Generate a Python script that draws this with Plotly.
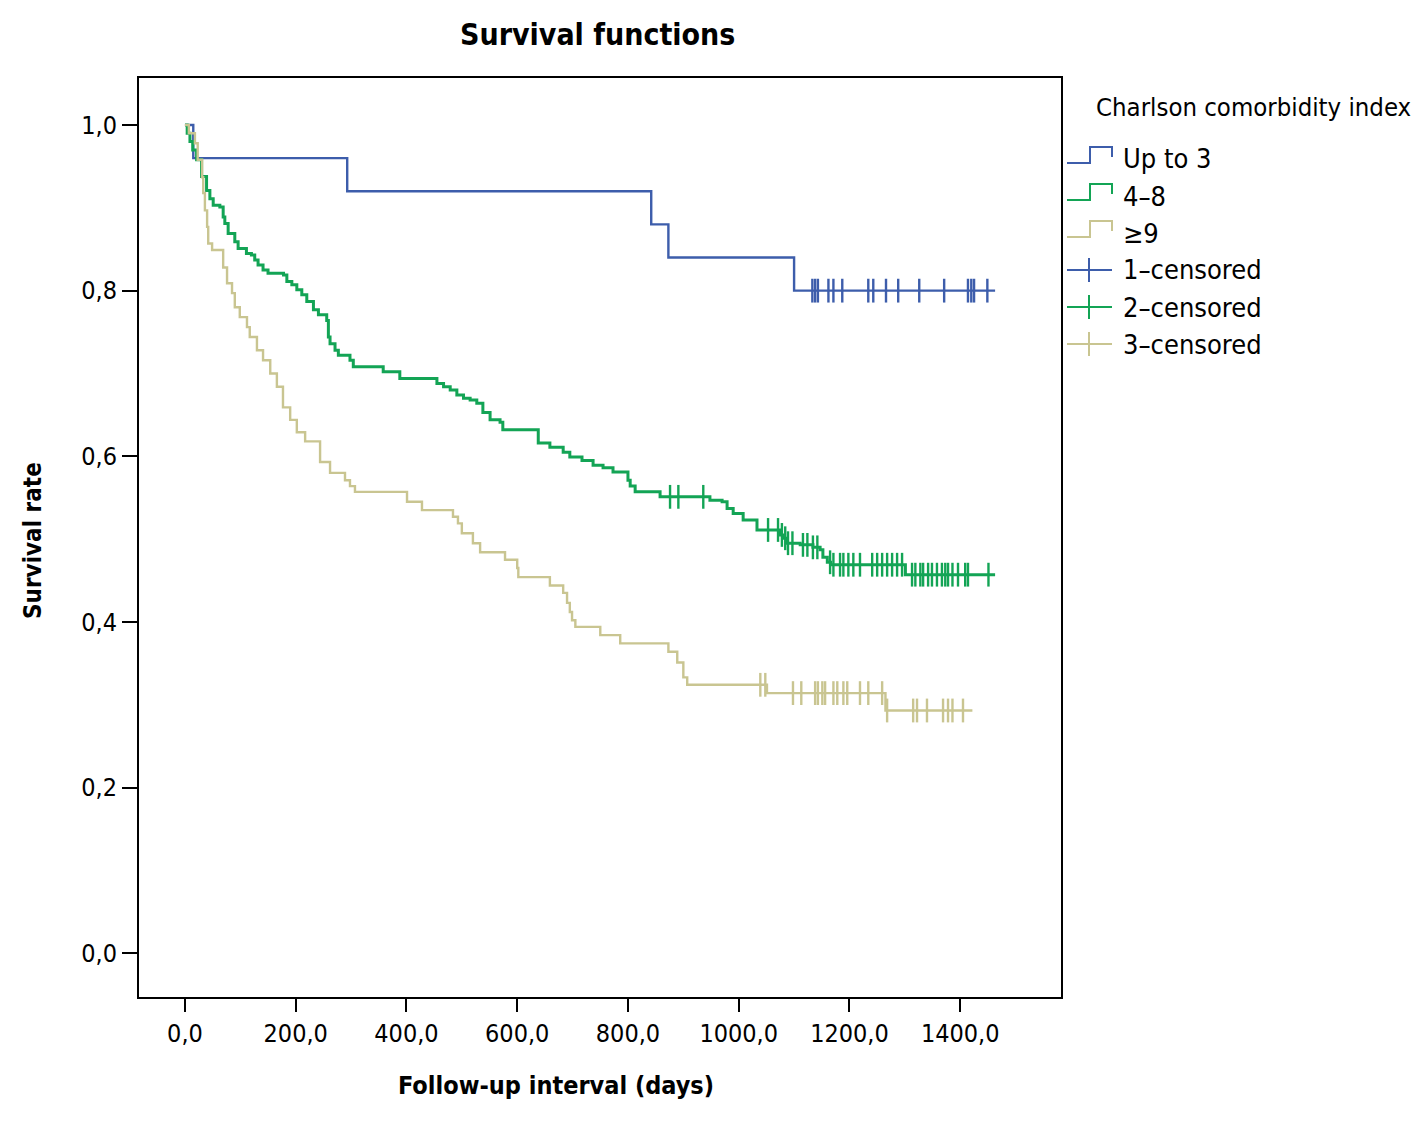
import plotly.graph_objects as go

# ---------------- DATA ----------------
# Kaplan-Meier step points: time of drop (days) and survival after drop
up3_times = [15, 293, 842, 873, 1100]
up3_surv = [0.96, 0.92, 0.88, 0.84, 0.80]
up3_end = 1463
up3_censor = [1133, 1138, 1143, 1162, 1171, 1187, 1234, 1243, 1266, 1288,
              1326, 1371, 1414, 1420, 1425, 1449]

mid_times = [4, 9, 14, 21, 30, 39, 45, 51, 63, 69, 72, 78, 90, 96, 111, 120,
             126, 132, 141, 150, 178, 184, 193, 202, 211, 220, 232, 241, 256,
             259, 262, 271, 277, 298, 304, 358, 388, 455, 467, 479, 491, 503,
             515, 527, 538, 551, 569, 574, 638, 659, 683, 695, 717, 737, 755,
             773, 800, 804, 813, 858, 948, 970, 979, 990, 1008, 1033, 1075,
             1080, 1087, 1111, 1134, 1147, 1152, 1160, 1166, 1301]
mid_surv = [0.99, 0.98, 0.97, 0.958, 0.938, 0.921, 0.911, 0.903, 0.901, 0.889,
            0.881, 0.869, 0.859, 0.851, 0.845, 0.843, 0.837, 0.831, 0.825,
            0.821, 0.819, 0.811, 0.807, 0.801, 0.795, 0.787, 0.777, 0.771,
            0.764, 0.744, 0.736, 0.728, 0.722, 0.716, 0.708, 0.702, 0.694,
            0.688, 0.684, 0.680, 0.674, 0.670, 0.668, 0.664, 0.653, 0.644,
            0.641, 0.632, 0.616, 0.611, 0.605, 0.599, 0.595, 0.589, 0.586,
            0.581, 0.571, 0.564, 0.557, 0.551, 0.547, 0.545, 0.537, 0.531,
            0.523, 0.511, 0.505, 0.501, 0.495, 0.493, 0.490, 0.487, 0.478,
            0.472, 0.469, 0.457]
mid_end = 1463
mid_censor = [876, 891, 936, 1053, 1071, 1078, 1084, 1089, 1097, 1116, 1124,
              1134, 1142, 1165, 1171, 1183, 1189, 1198, 1207, 1219, 1241, 1250,
              1259, 1268, 1277, 1286, 1295, 1313, 1319, 1328, 1333, 1342, 1349,
              1358, 1367, 1373, 1378, 1386, 1396, 1409, 1414, 1451]

hi_times = [7, 18, 23, 31, 33, 36, 40, 42, 49, 69, 76, 85, 90, 99, 112, 117,
            130, 141, 154, 166, 177, 190, 202, 217, 244, 262, 289, 298, 307,
            401, 428, 484, 493, 500, 520, 533, 578, 600, 602, 659, 683, 690,
            695, 699, 705, 750, 786, 873, 889, 900, 907, 1051, 1265]
hi_surv = [0.99, 0.978, 0.958, 0.937, 0.918, 0.897, 0.877, 0.857, 0.849,
           0.828, 0.809, 0.797, 0.780, 0.768, 0.756, 0.744, 0.728, 0.716,
           0.700, 0.684, 0.659, 0.644, 0.629, 0.618, 0.593, 0.580, 0.571,
           0.564, 0.557, 0.545, 0.535, 0.527, 0.519, 0.507, 0.495, 0.484,
           0.475, 0.465, 0.454, 0.444, 0.435, 0.423, 0.412, 0.402, 0.394,
           0.384, 0.374, 0.364, 0.351, 0.333, 0.324, 0.314, 0.293]
hi_end = 1422
hi_censor = [1039, 1048, 1098, 1113, 1138, 1143, 1151, 1156, 1171, 1178, 1189,
             1196, 1219, 1234, 1259, 1268, 1315, 1322, 1340, 1369, 1378, 1386,
             1405]

x_tickvals = [0, 200, 400, 600, 800, 1000, 1200, 1400]
x_ticktext = ["0,0", "200,0", "400,0", "600,0", "800,0", "1000,0", "1200,0", "1400,0"]
y_tickvals = [0.0, 0.2, 0.4, 0.6, 0.8, 1.0]
y_ticktext = ["0,0", "0,2", "0,4", "0,6", "0,8", "1,0"]

group_names = ["Up to 3", "4–8", "≥9"]
censor_names = ["1–censored", "2–censored", "3–censored"]

# ---------------- STYLE ----------------
C_BLUE = "#3D5DAB"
C_GREEN = "#13A455"
C_BEIGE = "#C9C591"
FONT = "Liberation Sans Narrow, DejaVu Sans Condensed, Arial Narrow, sans-serif"

W, H = 1426, 1133
OFF = 8  # page body margin
L, R, T, B = 139, 1061, 78, 997


def px(x):
    return (x - L) / (R - L)


def py(y):
    return (B - y) / (B - T)


def step_xy(times, surv, end):
    xs = [0] + list(times) + [end]
    ys = [1.0] + list(surv) + [surv[-1]]
    return xs, ys


def surv_at(times, surv, t):
    s = 1.0
    for ti, si in zip(times, surv):
        if ti <= t:
            s = si
    return s


fig = go.Figure()
series = [
    (up3_times, up3_surv, up3_end, up3_censor, C_BLUE, 2.4),
    (mid_times, mid_surv, mid_end, mid_censor, C_GREEN, 3.0),
    (hi_times, hi_surv, hi_end, hi_censor, C_BEIGE, 2.4),
]
for (tt, ss, ee, cc, col, lw) in series:
    xs, ys = step_xy(tt, ss, ee)
    fig.add_trace(go.Scatter(x=xs, y=ys, mode="lines", line=dict(color=col, width=lw, shape="hv"),
                             showlegend=False, hoverinfo="skip"))
    fig.add_trace(go.Scatter(x=cc, y=[surv_at(tt, ss, c) for c in cc], mode="markers",
                             marker=dict(symbol="line-ns", size=17, line=dict(color=col, width=2.4)),
                             showlegend=False, hoverinfo="skip"))

axis_common = dict(showline=True, linecolor="black", linewidth=2, mirror=True,
                   showgrid=False, zeroline=False, ticks="outside", tickcolor="black",
                   tickwidth=2, tickfont=dict(family=FONT, size=25, color="black"))

fig.update_xaxes(range=[-83, 1582], tickvals=x_tickvals, ticktext=x_ticktext, ticklen=13,
                 **axis_common)
fig.update_yaxes(range=[-0.053, 1.0568], tickvals=y_tickvals, ticktext=y_ticktext, ticklen=15,
                 **axis_common)

annotations = [
    dict(text="<b>Survival functions</b>", x=px(597), y=py(35), xref="paper", yref="paper",
         showarrow=False, font=dict(family=FONT, size=30, color="black"), xanchor="center", yanchor="middle"),
    dict(text="<b>Follow-up interval (days)</b>", x=px(556), y=py(1085), xref="paper", yref="paper",
         showarrow=False, font=dict(family=FONT, size=25, color="black"), xanchor="center", yanchor="middle"),
    dict(text="<b>Survival rate</b>", x=px(33), y=py(541), xref="paper", yref="paper", textangle=-90,
         showarrow=False, font=dict(family=FONT, size=24, color="black"), xanchor="center", yanchor="middle"),
    dict(text="Charlson comorbidity index", x=px(1094), y=py(107), xref="paper", yref="paper",
         showarrow=False, font=dict(family=FONT, size=25.5, color="black"), xanchor="left", yanchor="middle"),
]

shapes = []
colors = [C_BLUE, C_GREEN, C_BEIGE]
row_y = [158, 195, 232, 270, 307, 344]
for i, name in enumerate(group_names):
    yc = row_y[i]
    path = (f"M {px(1067)},{py(yc+5)} L {px(1090)},{py(yc+5)} L {px(1090)},{py(yc-11)} "
            f"L {px(1112)},{py(yc-11)} L {px(1112)},{py(yc-1)}")
    shapes.append(dict(type="path", path=path, xref="paper", yref="paper",
                       line=dict(color=colors[i], width=2)))
    annotations.append(dict(text=name, x=px(1121), y=py(yc + 1), xref="paper", yref="paper",
                            showarrow=False, font=dict(family=FONT, size=27, color="black"),
                            xanchor="left", yanchor="middle"))
for i, name in enumerate(censor_names):
    yc = row_y[i + 3]
    shapes.append(dict(type="line", x0=px(1067), x1=px(1112), y0=py(yc), y1=py(yc),
                       xref="paper", yref="paper", line=dict(color=colors[i], width=2)))
    shapes.append(dict(type="line", x0=px(1089), x1=px(1089), y0=py(yc - 12), y1=py(yc + 12),
                       xref="paper", yref="paper", line=dict(color=colors[i], width=2)))
    annotations.append(dict(text=name, x=px(1121), y=py(yc), xref="paper", yref="paper",
                            showarrow=False, font=dict(family=FONT, size=27, color="black"),
                            xanchor="left", yanchor="middle"))

fig.update_layout(width=W - OFF, height=H - OFF,
                  margin=dict(l=L - OFF, r=W - R, t=T - OFF, b=H - B),
                  paper_bgcolor="white", plot_bgcolor="white", showlegend=False,
                  annotations=annotations, shapes=shapes,
                  font=dict(family=FONT, color="black"))

fig.write_html("out.html")
